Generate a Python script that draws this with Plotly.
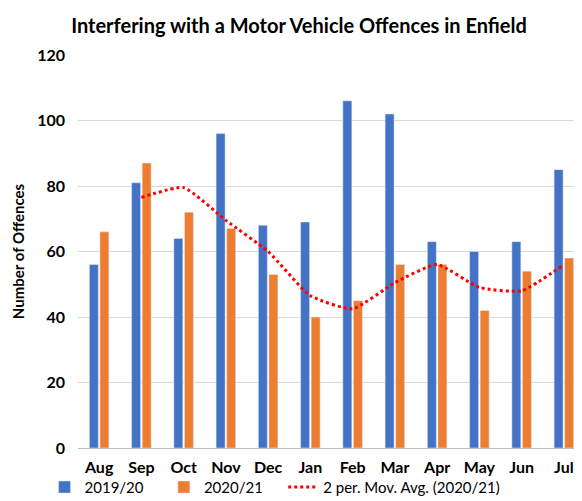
import plotly.graph_objects as go
import pandas as pd

months = ["Aug", "Sep", "Oct", "Nov", "Dec", "Jan", "Feb", "Mar", "Apr", "May", "Jun", "Jul"]
y2019 = [56, 81, 64, 96, 68, 69, 106, 102, 63, 60, 63, 85]
y2020 = [66, 87, 72, 67, 53, 40, 45, 56, 56, 42, 54, 58]
mov_avg = pd.Series(y2020).rolling(2).mean().tolist()

FONT = "Lato"
PAD = "\u00a0" * 4
fig = go.Figure()
fig.add_bar(x=months, y=y2019, name="2019/20" + PAD, marker_color="#4472C4")
fig.add_bar(x=months, y=y2020, name="2020/21" + PAD, marker_color="#ED7D31")
fig.add_scatter(x=months, y=mov_avg, name="2 per. Mov. Avg. (2020/21)", mode="lines",
                line=dict(color="#FF0000", dash="dot", width=3, shape="spline", smoothing=0.5))

fig.update_layout(
    width=582, height=501,
    margin=dict(t=47, b=57, l=70, r=5),
    paper_bgcolor="white", plot_bgcolor="white",
    title=dict(text="<b>Interfering with a Motor Vehicle Offences in Enfield</b>",
               x=0.5, xanchor="center", y=0.964, yanchor="middle",
               font=dict(family=FONT, size=20, color="black")),
    barmode="group", bargap=0.5, bargroupgap=0.15,
    font=dict(family=FONT, size=14, color="black"),
    legend=dict(orientation="h", x=-0.066, xanchor="left",
                y=-0.1, yanchor="middle", bgcolor="rgba(0,0,0,0)",
                font=dict(family=FONT, size=15, color="black"), traceorder="normal"),
)
fig.update_yaxes(range=[0, 120], dtick=20, showgrid=True, gridcolor="#D9D9D9", gridwidth=1,
                 zeroline=False, automargin=False, ticklabelstandoff=12,
                 tickfont=dict(family=FONT, size=16, color="black"),
                 tickprefix="<b>", ticksuffix="</b>",
                 title=dict(text="<b>Number of Offences</b>", standoff=8,
                            font=dict(family=FONT, size=15, color="black")))
fig.update_xaxes(showline=True, linecolor="#BFBFBF", linewidth=1, automargin=False,
                 ticklabelstandoff=5,
                 tickfont=dict(family=FONT, size=16, color="black"),
                 tickprefix="<b>", ticksuffix="</b>")
fig.write_html("out.html")
